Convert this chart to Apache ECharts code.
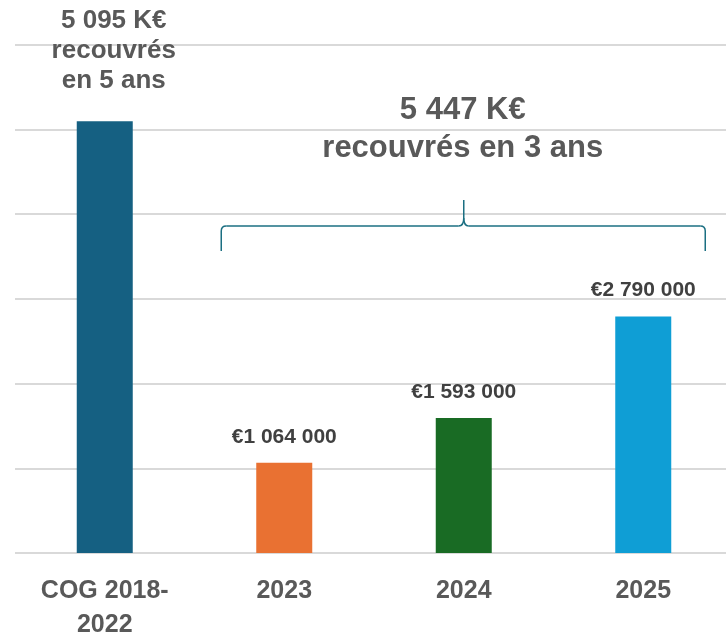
<!DOCTYPE html>
<html>
<head>
<meta charset="utf-8">
<script src="https://cdn.jsdelivr.net/npm/echarts@6/dist/echarts.min.js"></script>
<style>
  html, body { margin: 0; padding: 0; background: #ffffff; }
  #chart { width: 726px; height: 636px; }
</style>
</head>
<body>
<div id="chart"></div>
<script>
// données
const categories = ['COG 2018-\n2022', '2023', '2024', '2025'];
const amounts = [5095000, 1064000, 1593000, 2790000];
const barColors = ['#156082', '#E97132', '#196B24', '#0F9ED5'];
const yMax = 6000000;
const yStep = 1000000;
const periodNote = 'recouvrés\nen 5 ans';
const totalNote = 'recouvrés en 3 ans';

const fontFamily = '"Liberation Sans", Arial, sans-serif';

function spaced(n) {
    return String(n).replace(/\B(?=(\d{3})+(?!\d))/g, ' ');
}

// total des 3 dernières années
const recentTotal = amounts.slice(1).reduce((a, b) => a + b, 0);

var chart = echarts.init(document.getElementById('chart'), null, { renderer: 'canvas' });

var barData = amounts.map((v, i) => {
    var item = { value: v, itemStyle: { color: barColors[i] } };
    if (i === 0) {
        item.label = {
            show: true,
            position: 'top',
            distance: 25,
            offset: [9, 0],
            formatter: p => spaced(Math.round(p.value / 1000)) + ' K€\n' + periodNote,
            color: '#595959',
            fontSize: 26,
            fontWeight: 'bold',
            fontFamily: fontFamily,
            lineHeight: 30
        };
    }
    return item;
});

var option = {
    animation: false,
    grid: { left: 15, top: 44.5, width: 718, height: 508.5, containLabel: false, outerBoundsMode: 'none' },
    xAxis: {
        type: 'category',
        data: categories,
        axisLine: { show: false },
        axisTick: { show: false },
        axisLabel: {
            margin: 21,
            color: '#595959',
            fontSize: 25,
            fontWeight: 'bold',
            fontFamily: fontFamily,
            lineHeight: 34
        }
    },
    yAxis: {
        type: 'value',
        min: 0,
        max: yMax,
        interval: yStep,
        axisLabel: { show: false },
        axisLine: { show: false },
        axisTick: { show: false },
        splitLine: { lineStyle: { color: '#d9d9d9', width: 2 } }
    },
    series: [{
        type: 'bar',
        data: barData,
        barWidth: 56,
        label: {
            show: true,
            position: 'top',
            distance: 15,
            formatter: p => '€' + spaced(p.value),
            color: '#404040',
            fontSize: 21,
            fontWeight: 'bold',
            fontFamily: fontFamily,
            lineHeight: 22
        }
    }]
};

chart.setOption(option);

// accolade et texte au-dessus des trois dernières années
var xL = chart.convertToPixel({ xAxisIndex: 0 }, categories[1]) - 63;
var xM = chart.convertToPixel({ xAxisIndex: 0 }, categories[2]);
var xR = chart.convertToPixel({ xAxisIndex: 0 }, categories[3]) + 62;
var yTip = 200, yBar = 226, yLeg = 251, r = 5;

var braceStyle = { stroke: '#1b6f82', lineWidth: 1.5, fill: null };
function seg(x1, y1, x2, y2) {
    return { type: 'line', shape: { x1: x1, y1: y1, x2: x2, y2: y2 }, style: braceStyle };
}
function curve(x1, y1, cx, cy, x2, y2) {
    return { type: 'bezierCurve', shape: { x1: x1, y1: y1, cpx1: cx, cpy1: cy, x2: x2, y2: y2 }, style: braceStyle };
}

chart.setOption({
    graphic: [
        seg(xL, yLeg, xL, yBar + r),
        curve(xL, yBar + r, xL, yBar, xL + r, yBar),
        seg(xL + r, yBar, xM - 5, yBar),
        curve(xM - 5, yBar, xM, yBar, xM, yBar - 8),
        seg(xM, yBar - 8, xM, yTip),
        curve(xM, yBar - 8, xM, yBar, xM + 5, yBar),
        seg(xM + 5, yBar, xR - r, yBar),
        curve(xR - r, yBar, xR, yBar, xR, yBar + r),
        seg(xR, yBar + r, xR, yLeg),
        {
            type: 'text',
            x: xM - 1,
            y: 91,
            style: {
                text: spaced(Math.round(recentTotal / 1000)) + ' K€\n' + totalNote,
                align: 'center',
                verticalAlign: 'top',
                fill: '#595959',
                font: 'bold 31px ' + fontFamily,
                lineHeight: 38.5
            }
        }
    ]
});
</script>
</body>
</html>
